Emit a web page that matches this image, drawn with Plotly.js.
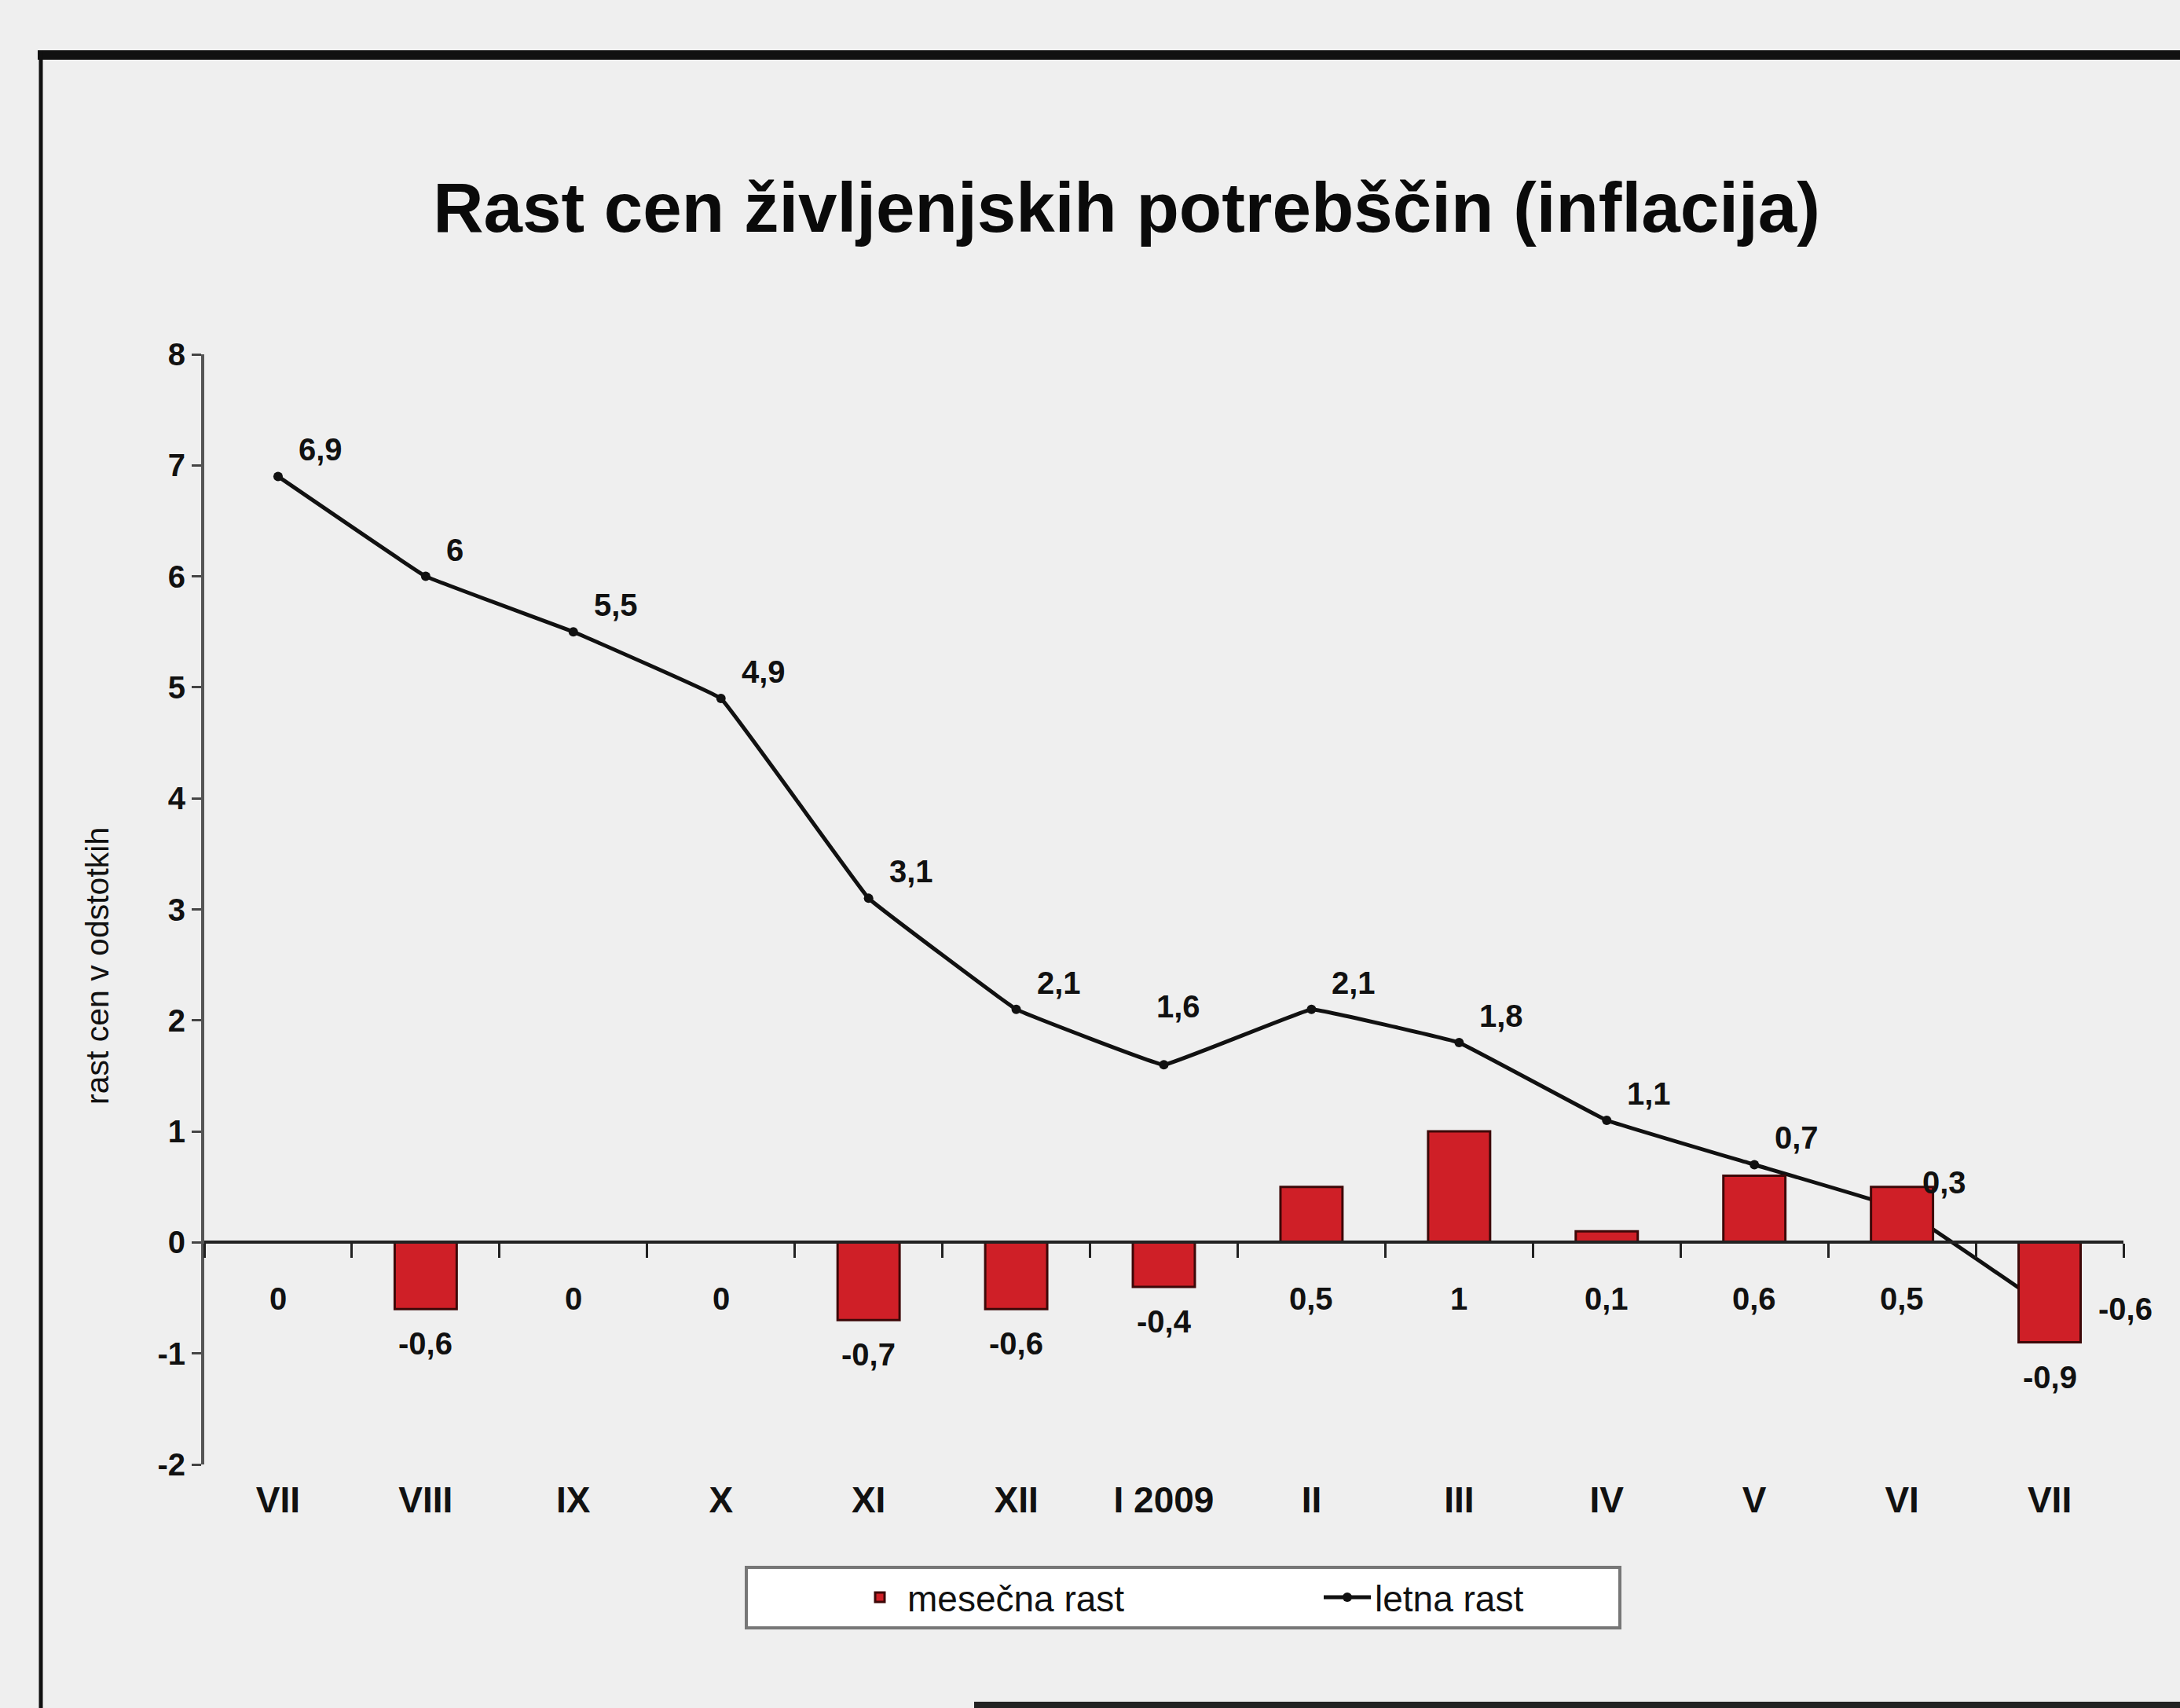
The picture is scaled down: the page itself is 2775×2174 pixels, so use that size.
<!DOCTYPE html>
<html>
<head>
<meta charset="utf-8">
<script src="https://cdn.plot.ly/plotly-3.0.1.min.js"></script>
<style>html,body{margin:0;padding:0;background:#efefef;}#chart{width:2775px;height:2174px;}</style>
</head>
<body>
<div id="chart"></div>
<script>
// ---- data ----
const months = ['VII','VIII','IX','X','XI','XII','I 2009','II','III','IV','V','VI','VII'];
const monthlyGrowth = [0, -0.6, 0, 0, -0.7, -0.6, -0.4, 0.5, 1, 0.1, 0.6, 0.5, -0.9];
const annualGrowth = [6.9, 6, 5.5, 4.9, 3.1, 2.1, 1.6, 2.1, 1.8, 1.1, 0.7, 0.3, -0.6];
const yTicks = [-2, -1, 0, 1, 2, 3, 4, 5, 6, 7, 8];
const titleText = 'Rast cen življenjskih potrebščin (inflacija)';
const yTitleText = 'rast cen v odstotkih';
const seriesNames = ['mesečna rast', 'letna rast'];

// ---- layout geometry (pixels) ----
const W = 2775, H = 2174;
const L = 260, R = 2703, T = 451, B = 1864;
const PW = R - L, PH = B - T;
const px = x => (x - L) / PW;
const py = y => (B - y) / PH;

const FONT = '"Liberation Sans Narrow", "Arial Narrow", "Liberation Sans", Arial, sans-serif';
const fmt = v => String(v).replace('.', ',');
const idx = months.map((_, i) => i);
const boundaries = months.concat(['']).map((_, i) => i - 0.5);
const yMin = -2, yMax = 8;

const bars = {
  type: 'bar', name: seriesNames[0],
  x: idx, y: monthlyGrowth, xaxis: 'x2', yaxis: 'y',
  width: 0.42,
  marker: {color: '#cf1f27', line: {color: '#3d0808', width: 3}},
  hoverinfo: 'skip'
};
const line = {
  type: 'scatter', mode: 'lines+markers', name: seriesNames[1],
  x: idx, y: annualGrowth, xaxis: 'x', yaxis: 'y',
  line: {color: '#111', width: 5, shape: 'spline', smoothing: 0.15},
  marker: {color: '#111', size: 12, symbol: 'circle'},
  cliponaxis: false, hoverinfo: 'skip'
};

const labelFont = {family: FONT, size: 40, color: '#111', weight: 'bold'};
const annotations = [];
monthlyGrowth.forEach((v, i) => {
  annotations.push({
    x: i, y: Math.min(v, 0), xref: 'x', yref: 'y',
    text: fmt(v), showarrow: false, xanchor: 'center', yanchor: 'top',
    yshift: v < 0 ? -20 : -48, font: labelFont
  });
});
annualGrowth.forEach((v, i) => {
  const last = i === annualGrowth.length - 1;
  const localMin = i > 0 && !last && v < annualGrowth[i - 1] && v < annualGrowth[i + 1];
  let a;
  if (last) {
    a = {xanchor: 'left', yanchor: 'middle', xshift: 60, yshift: 0};
  } else if (localMin) {
    a = {xanchor: 'center', yanchor: 'bottom', xshift: 18, yshift: 50};
  } else {
    a = {xanchor: 'left', yanchor: 'bottom', xshift: 24, yshift: 10};
  }
  annotations.push(Object.assign({
    x: i, y: v, xref: 'x', yref: 'y',
    text: fmt(v), showarrow: false, font: labelFont
  }, a));
});
annotations.push({
  xref: 'paper', yref: 'paper', x: px(124), y: py(1230),
  text: yTitleText, textangle: -90, showarrow: false,
  xanchor: 'center', yanchor: 'middle',
  font: {family: FONT, size: 41, color: '#111'}
});

const shapes = [
  // outer frame
  {type: 'line', xref: 'paper', yref: 'paper', x0: px(48), x1: px(2775), y0: py(70), y1: py(70), line: {color: '#111', width: 12}},
  {type: 'line', xref: 'paper', yref: 'paper', x0: px(52), x1: px(52), y0: py(64), y1: py(2174), line: {color: '#111', width: 5}},
  {type: 'line', xref: 'paper', yref: 'paper', x0: px(1240), x1: px(2775), y0: py(2170), y1: py(2170), line: {color: '#222', width: 8}},
  // legend box
  {type: 'rect', xref: 'paper', yref: 'paper', x0: px(950), x1: px(2062), y0: py(1995), y1: py(2072), fillcolor: '#ffffff', line: {color: '#777', width: 4}}
];

const layout = {
  width: W, height: H,
  paper_bgcolor: '#efefef', plot_bgcolor: 'rgba(0,0,0,0)',
  margin: {l: L, r: W - R, t: T, b: H - B, pad: 0},
  separators: ',.',
  showlegend: true,
  title: {
    text: '<b>' + titleText + '</b>',
    font: {family: FONT, size: 89, color: '#0a0a0a'},
    xref: 'container', yref: 'container', x: 1434 / W, y: 1 - 264 / H,
    xanchor: 'center', yanchor: 'middle'
  },
  xaxis: {
    range: [-0.5, months.length - 0.5], tickmode: 'array', tickvals: idx, ticktext: months,
    showline: false, ticks: '', showgrid: false, zeroline: false,
    tickfont: {family: FONT, size: 46, color: '#111', weight: 'bold'},
    ticklabelstandoff: 14, fixedrange: true
  },
  xaxis2: {
    overlaying: 'x', anchor: 'free', position: (0 - yMin) / (yMax - yMin),
    range: [-0.5, months.length - 0.5], tickmode: 'array', tickvals: boundaries,
    showticklabels: false, ticks: 'outside', ticklen: 18, tickwidth: 3, tickcolor: '#222',
    showline: true, linewidth: 4, linecolor: '#222', showgrid: false, zeroline: false
  },
  yaxis: {
    range: [yMin, yMax], tickmode: 'array', tickvals: yTicks,
    ticktext: yTicks.map(v => String(v)),
    showline: true, linewidth: 4, linecolor: '#555', ticks: 'outside', ticklen: 12, tickwidth: 3, tickcolor: '#444',
    showgrid: false, zeroline: false,
    tickfont: {family: FONT, size: 40, color: '#111', weight: 'bold'}
  },
  legend: {
    orientation: 'h', x: px(1085), y: py(2033), xanchor: 'left', yanchor: 'middle',
    bgcolor: 'rgba(0,0,0,0)', borderwidth: 0,
    font: {family: FONT, size: 46, color: '#111'},
    itemwidth: 60,
    entrywidth: 520, entrywidthmode: 'pixels', traceorder: 'normal'
  },
  annotations: annotations,
  shapes: shapes
};

Plotly.newPlot('chart', [bars, line], layout, {staticPlot: true});
</script>
</body>
</html>
